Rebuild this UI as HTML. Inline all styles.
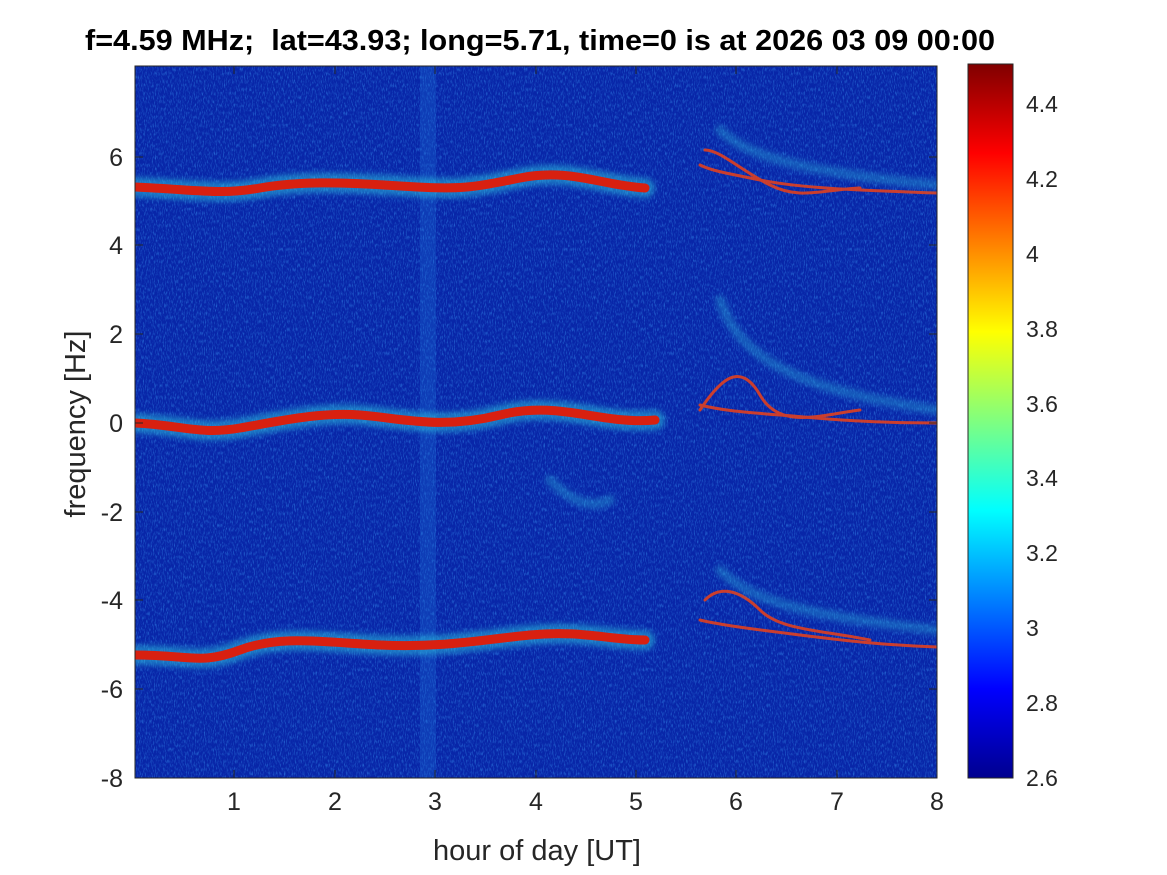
<!DOCTYPE html>
<html><head><meta charset="utf-8"><style>
body{margin:0;background:#fff;}
svg{display:block;font-family:"Liberation Sans",sans-serif;}
</style></head><body>
<svg width="1167" height="875" viewBox="0 0 1167 875" xmlns="http://www.w3.org/2000/svg">
<defs>
<linearGradient id="jet" x1="0" y1="1" x2="0" y2="0">
<stop offset="0" stop-color="#00008f"/>
<stop offset="0.125" stop-color="#0000ff"/>
<stop offset="0.375" stop-color="#00ffff"/>
<stop offset="0.625" stop-color="#ffff00"/>
<stop offset="0.875" stop-color="#ff0000"/>
<stop offset="1" stop-color="#800000"/>
</linearGradient>
<filter id="noise" x="0" y="0" width="100%" height="100%">
<feTurbulence type="fractalNoise" baseFrequency="0.9 0.25" numOctaves="2" seed="3"/>
<feColorMatrix type="matrix" values="0 0 0 0 0.05  0 0 0 0 0.35  0 0 0 0 0.95  0 0 0 1.6 -0.75"/>
</filter>
<filter id="blur"><feGaussianBlur stdDeviation="3"/></filter>
<clipPath id="pc"><rect x="135" y="66" width="802" height="712"/></clipPath>
</defs>
<rect x="135" y="66" width="802" height="712" fill="#0826a8"/>
<g clip-path="url(#pc)">
<rect x="135" y="66" width="802" height="712" filter="url(#noise)" opacity="0.8"/>
<rect x="420" y="66" width="16" height="712" fill="#1d6fd8" opacity="0.3"/>
<g fill="none" stroke-linecap="round">
<g stroke="#2ec8e0" stroke-width="20" opacity="0.5" filter="url(#blur)">
<path d="M135 187 C200 190 220 195 260 188 S340 182 400 186 S470 188 520 178 S600 185 645 188"/>
<path d="M135 423 C180 425 200 435 240 428 S320 412 360 415 S440 430 500 415 S600 425 655 420"/>
<path d="M135 655 C190 655 200 665 240 650 S320 642 380 645 S480 640 530 635 S610 640 645 640"/>
</g>
<g stroke="#d82010" stroke-width="9">
<path d="M135 187 C200 190 220 195 260 188 S340 182 400 186 S470 188 520 178 S600 185 645 188"/>
<path d="M135 423 C180 425 200 435 240 428 S320 412 360 415 S440 430 500 415 S600 425 655 420"/>
<path d="M135 655 C190 655 200 665 240 650 S320 642 380 645 S480 640 530 635 S610 640 645 640"/>
</g>
<g stroke="#e04020" stroke-width="3" opacity="0.9">
<path d="M700 165 C710 170 720 172 760 180 S850 190 937 193"/>
<path d="M705 150 C720 150 740 170 770 185 S820 190 860 188"/>
<path d="M700 405 C720 410 740 412 780 415 S860 423 937 423"/>
<path d="M700 410 C720 380 740 360 760 395 S820 415 860 410"/>
<path d="M700 620 C720 625 760 630 800 635 S880 645 937 647"/>
<path d="M705 600 C720 585 740 590 760 610 S820 630 870 640"/>
</g>
<g stroke="#30c0e0" stroke-width="10" opacity="0.35" filter="url(#blur)">
<path d="M720 130 C740 150 780 170 937 185"/>
<path d="M720 300 C740 360 800 390 937 410"/>
<path d="M720 570 C750 600 800 615 937 630"/>
<path d="M550 480 C570 500 590 510 610 500"/>
</g>
</g>
</g>
<rect x="135" y="66" width="802" height="712" fill="none" stroke="#262626" stroke-width="1"/>
<g stroke="#262626" stroke-width="1">
<path d="M234 778v-8M335 778v-8M435 778v-8M536 778v-8M636 778v-8M736 778v-8M837 778v-8M234 66v8M335 66v8M435 66v8M536 66v8M636 66v8M736 66v8M837 66v8"/>
<path d="M135 157h8M135 245h8M135 334h8M135 423h8M135 512h8M135 600h8M135 689h8M937 157h-8M937 245h-8M937 334h-8M937 423h-8M937 512h-8M937 600h-8M937 689h-8"/>
</g>
<g font-size="25" fill="#262626" text-anchor="middle">
<text x="234" y="810">1</text><text x="335" y="810">2</text><text x="435" y="810">3</text><text x="536" y="810">4</text><text x="636" y="810">5</text><text x="736" y="810">6</text><text x="837" y="810">7</text><text x="937" y="810">8</text>
</g>
<g font-size="25" fill="#262626" text-anchor="end">
<text x="123" y="166">6</text><text x="123" y="254">4</text><text x="123" y="343">2</text><text x="123" y="432">0</text><text x="123" y="521">-2</text><text x="123" y="609">-4</text><text x="123" y="698">-6</text><text x="123" y="787">-8</text>
</g>
<text x="537" y="860" font-size="29" fill="#262626" text-anchor="middle">hour of day [UT]</text>
<text transform="translate(85,424) rotate(-90)" font-size="29" fill="#262626" text-anchor="middle">frequency [Hz]</text>
<text x="540" y="50" font-size="29" font-weight="bold" fill="#000" text-anchor="middle" textLength="910" lengthAdjust="spacingAndGlyphs" style="white-space:pre">f=4.59 MHz;  lat=43.93; long=5.71, time=0 is at 2026 03 09 00:00</text>
<rect x="968" y="64" width="45" height="714" fill="url(#jet)" stroke="#262626" stroke-width="1"/>
<g font-size="23" fill="#262626">
<text x="1026" y="112">4.4</text><text x="1026" y="187">4.2</text><text x="1026" y="262">4</text><text x="1026" y="337">3.8</text><text x="1026" y="412">3.6</text><text x="1026" y="486">3.4</text><text x="1026" y="561">3.2</text><text x="1026" y="636">3</text><text x="1026" y="711">2.8</text><text x="1026" y="786">2.6</text>
</g>
</svg>
</body></html>
